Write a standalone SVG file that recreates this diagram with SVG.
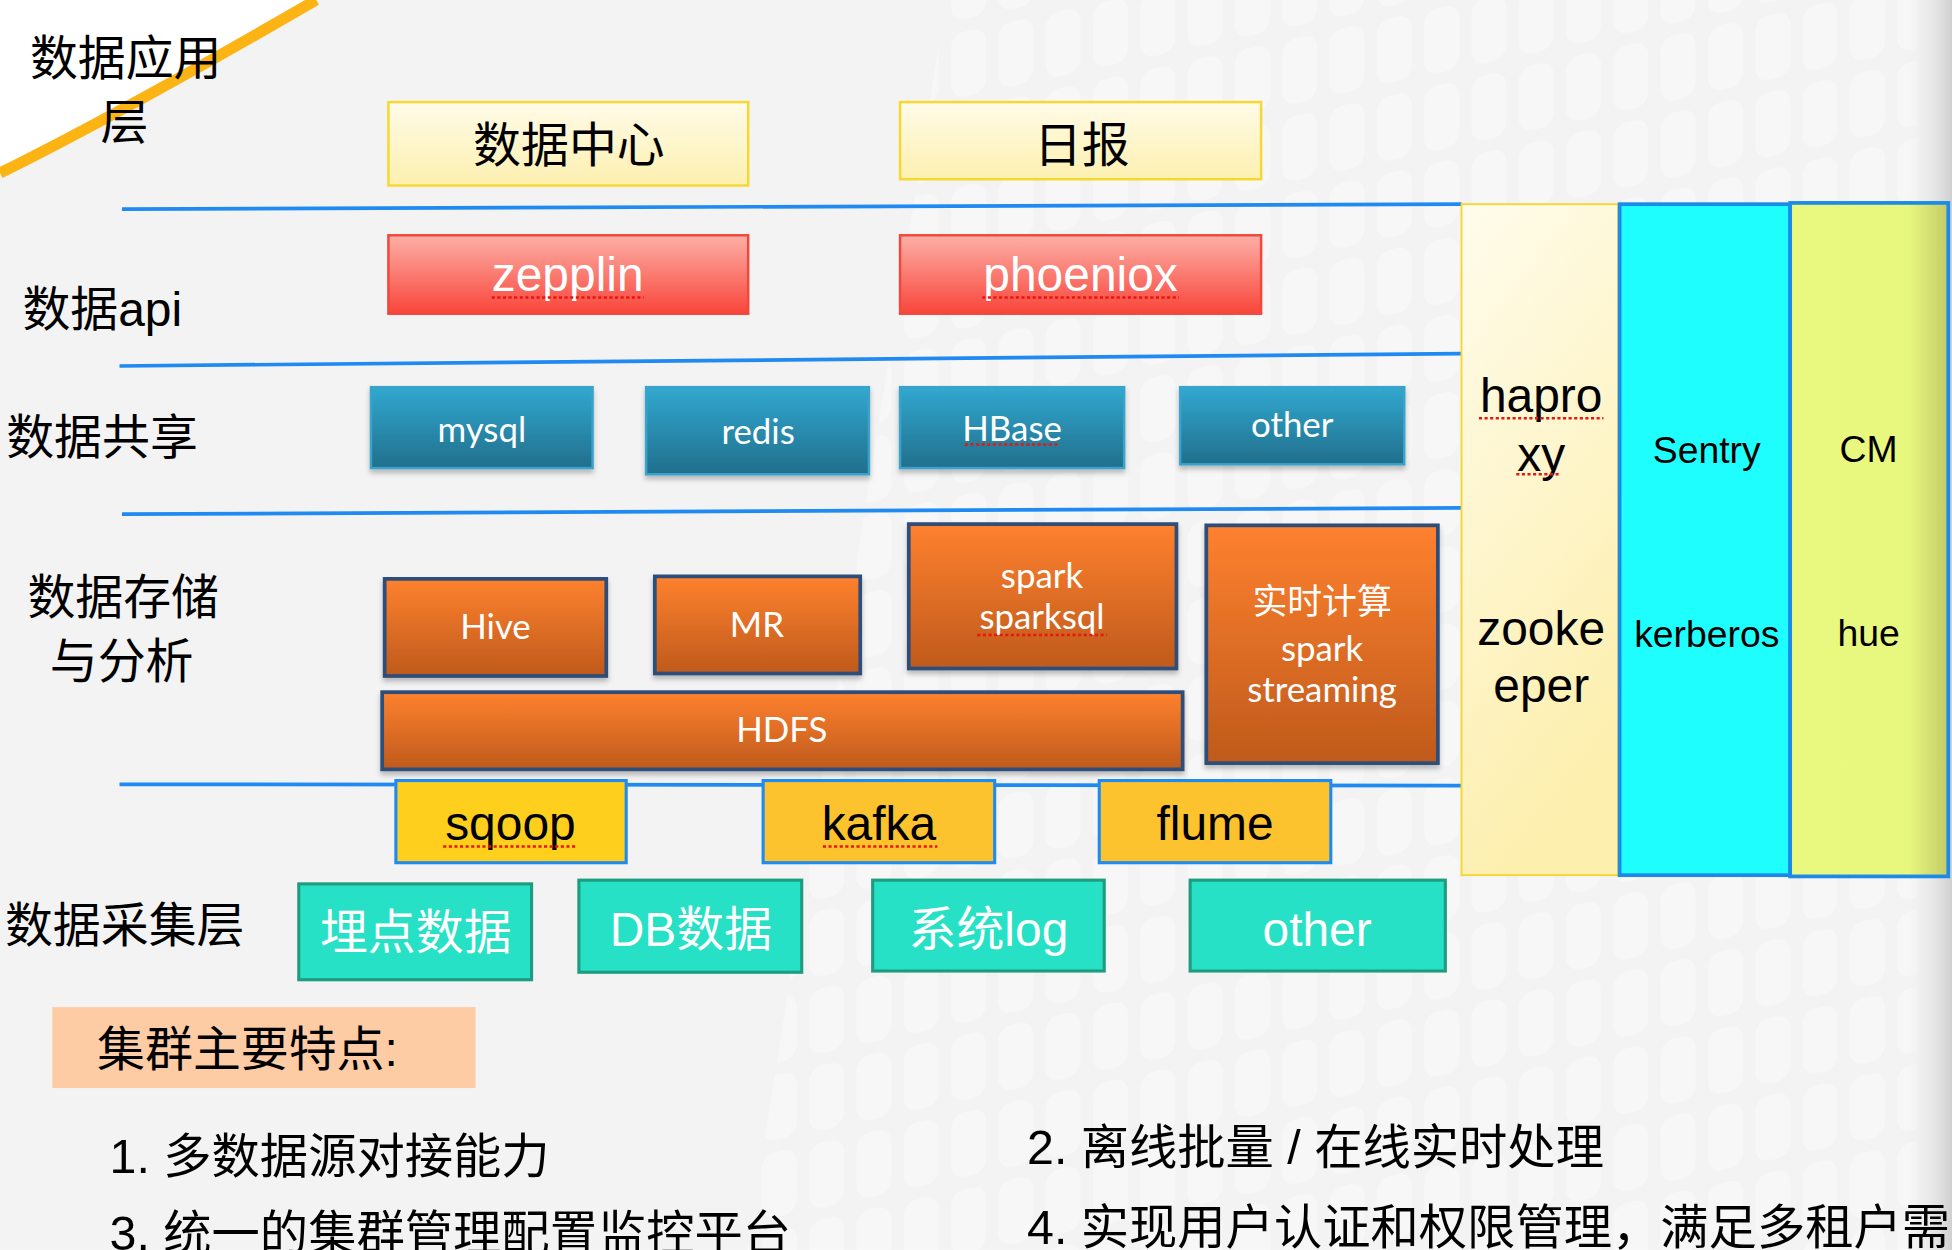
<svg xmlns="http://www.w3.org/2000/svg" width="1952" height="1250" viewBox="0 0 1952 1250">
<style>
.t{font-family:"Liberation Sans","Noto Sans CJK SC",sans-serif;fill:#000}
.lbl{font-size:38.5px}
.mid{text-anchor:middle}
.w{fill:#fff}
.ft{font-size:38.8px}
.lato{font-family:Lato,"Noto Sans CJK SC",sans-serif;font-size:28px;fill:#fff;text-anchor:middle}
.sep{stroke:#1f8af2;stroke-width:3;fill:none}
.sq{stroke:#e8160c;stroke-width:2;stroke-dasharray:2.5 2;fill:none}
.yb{fill:url(#gY);stroke:#f6d832;stroke-width:2}
.rb{fill:url(#gR);stroke:#f2483c;stroke-width:2}
.tb{fill:url(#gT);stroke:#3aa3cb;stroke-width:2;filter:url(#sh)}
.ob{fill:url(#gO);stroke:#2f4d78;stroke-width:3;filter:url(#sh)}
.kb{stroke:#1f8af2;stroke-width:2.5}
.gb{fill:#26e1c5;stroke:#1d9c80;stroke-width:2.5}
</style>
<defs>
<linearGradient id="gY" x1="0" y1="0" x2="0" y2="1"><stop offset="0" stop-color="#fffbe8"/><stop offset="1" stop-color="#fdf0b0"/></linearGradient>
<linearGradient id="gR" x1="0" y1="0" x2="0" y2="1"><stop offset="0" stop-color="#fcb0a7"/><stop offset="1" stop-color="#f9453a"/></linearGradient>
<linearGradient id="gT" x1="0" y1="0" x2="0" y2="1"><stop offset="0" stop-color="#31a8d0"/><stop offset="1" stop-color="#226f8c"/></linearGradient>
<linearGradient id="gO" x1="0" y1="0" x2="0" y2="1"><stop offset="0" stop-color="#fe812e"/><stop offset="1" stop-color="#bf5a1c"/></linearGradient>
<linearGradient id="gC1" x1="0" y1="0" x2="0.3" y2="1"><stop offset="0" stop-color="#fffcec"/><stop offset="1" stop-color="#fdefae"/></linearGradient>
<linearGradient id="gC3" x1="0" y1="0" x2="1" y2="0"><stop offset="0" stop-color="#e9f97f"/><stop offset="0.75" stop-color="#e8f77d"/><stop offset="1" stop-color="#c3cb68"/></linearGradient>
<linearGradient id="gEdge" x1="0" y1="0" x2="1" y2="0"><stop offset="0" stop-color="#f3f3f3" stop-opacity="0"/><stop offset="1" stop-color="#cfcfcf"/></linearGradient>
<pattern id="tiles" width="38" height="62" patternUnits="userSpaceOnUse" patternTransform="skewY(-12)">
<rect x="4" y="4" width="28" height="52" rx="11" fill="#fbfbfb"/>
</pattern>
<filter id="sh" x="-5%" y="-5%" width="110%" height="125%"><feDropShadow dx="0" dy="3" stdDeviation="2" flood-color="#000" flood-opacity="0.25"/></filter>
</defs>
<g transform="scale(1.2449)">
<g id="background">
<rect x="0" y="0" width="1568" height="1004" fill="#f3f3f3"/>
<polygon points="600,1004 760,0 1540,0 1540,1004" fill="url(#tiles)" opacity="0.55"/>
<rect x="1530" y="0" width="38" height="1004" fill="url(#gEdge)"/>
<path d="M0,0 L254,0 Q95,92 0,139 Z" fill="#ffffff"/>
<path d="M0,139 Q95,92 254,0" stroke="#fbb414" stroke-width="9" fill="none"/>
</g>
<g id="connectors">
<line class="sep" x1="98" y1="168" x2="1174" y2="164"/>
<line class="sep" x1="96" y1="294" x2="1174" y2="284"/>
<line class="sep" x1="98" y1="413" x2="1174" y2="408"/>
<line class="sep" x1="96" y1="630" x2="1174" y2="631"/>
</g>
<g id="layer-labels">
<text class="t lbl" x="24" y="60">数据应用</text>
<text class="t lbl mid" x="100" y="112">层</text>
<text class="t lbl" x="18" y="262">数据api</text>
<text class="t lbl" x="5" y="365">数据共享</text>
<text class="t lbl" x="22" y="493">数据存储</text>
<text class="t lbl" x="40" y="545">与分析</text>
<text class="t lbl" x="4" y="757">数据采集层</text>
</g>
<g id="n-datacenter"><rect class="yb" x="312" y="82" width="289" height="67"/><text class="t mid" x="457" y="130" font-size="38.5">数据中心</text></g>
<g id="n-daily"><rect class="yb" x="723" y="82" width="290" height="62"/><text class="t mid" x="869" y="130" font-size="38.5">日报</text></g>
<g id="n-zepplin"><rect class="rb" x="312" y="189" width="289" height="63"/><text class="t w mid" x="456" y="234" font-size="38.5">zepplin</text><line class="sq" x1="395" y1="239" x2="517" y2="239"/></g>
<g id="n-phoeniox"><rect class="rb" x="723" y="189" width="290" height="63"/><text class="t w mid" x="868" y="234" font-size="38.5">phoeniox</text><line class="sq" x1="789" y1="239" x2="947" y2="239"/></g>
<g id="n-mysql"><rect class="tb" x="298" y="311" width="178" height="65"/><text class="lato" x="387" y="355">mysql</text></g>
<g id="n-redis"><rect class="tb" x="519" y="311" width="179" height="70"/><text class="lato" x="609" y="357">redis</text></g>
<g id="n-hbase"><rect class="tb" x="723" y="311" width="180" height="65"/><text class="lato" x="813" y="354">HBase</text><line class="sq" x1="775" y1="357" x2="850" y2="357"/></g>
<g id="n-other1"><rect class="tb" x="948" y="311" width="180" height="62"/><text class="lato" x="1038" y="351">other</text></g>
<g id="n-hive"><rect class="ob" x="309" y="465" width="178" height="78"/><text class="lato" x="398" y="513">Hive</text></g>
<g id="n-mr"><rect class="ob" x="526" y="463" width="165" height="78"/><text class="lato" x="608" y="512">MR</text></g>
<g id="n-spark"><rect class="ob" x="730" y="421" width="215" height="116"/><text class="lato" x="837" y="472">spark</text><text class="lato" x="837" y="505">sparksql</text><line class="sq" x1="785" y1="510" x2="889" y2="510"/></g>
<g id="n-streaming"><rect class="ob" x="969" y="422" width="186" height="191"/><text class="lato" x="1062" y="493">实时计算</text><text class="lato" x="1062" y="531">spark</text><text class="lato" x="1062" y="564">streaming</text></g>
<g id="n-hdfs"><rect class="ob" x="307" y="556" width="643" height="62"/><text class="lato" x="628" y="596">HDFS</text></g>
<g id="n-sqoop"><rect class="kb" x="318" y="627" width="185" height="66" fill="#fecf1c"/><text class="t mid" x="410" y="675" font-size="38.5">sqoop</text><line class="sq" x1="356" y1="680" x2="463" y2="680"/></g>
<g id="n-kafka"><rect class="kb" x="613" y="627" width="186" height="66" fill="#fdc32e"/><text class="t mid" x="706" y="675" font-size="38.5">kafka</text><line class="sq" x1="661" y1="680" x2="753" y2="680"/></g>
<g id="n-flume"><rect class="kb" x="883" y="627" width="186" height="66" fill="#fdc32e"/><text class="t mid" x="976" y="675" font-size="38.5">flume</text></g>
<g id="n-maidian"><rect class="gb" x="240" y="710" width="187" height="77"/><text class="t w mid" x="334" y="762" font-size="38.5">埋点数据</text></g>
<g id="n-db"><rect class="gb" x="465" y="707" width="179" height="74"/><text class="t w mid" x="555" y="760" font-size="38.5">DB数据</text></g>
<g id="n-log"><rect class="gb" x="701" y="707" width="186" height="73"/><text class="t w mid" x="794" y="760" font-size="38.5">系统log</text></g>
<g id="n-other2"><rect class="gb" x="956" y="707" width="205" height="73"/><text class="t w mid" x="1058" y="760" font-size="38.5">other</text></g>
<g id="n-haproxy-zk"><rect x="1174" y="164" width="126" height="539" fill="url(#gC1)" stroke="#f6d630" stroke-width="1.5"/>
<text class="t mid" x="1238" y="331" font-size="38.5">hapro</text><text class="t mid" x="1238" y="378" font-size="38.5">xy</text>
<line class="sq" x1="1188" y1="336" x2="1288" y2="336"/><line class="sq" x1="1218" y1="381" x2="1253" y2="381"/>
<text class="t mid" x="1238" y="518" font-size="38.5">zooke</text><text class="t mid" x="1238" y="564" font-size="38.5">eper</text></g>
<g id="n-sentry"><rect x="1301" y="164" width="137" height="539" fill="#1ffefe" stroke="#1c8ae8" stroke-width="3"/>
<text class="t mid" x="1371" y="372" font-size="30">Sentry</text><text class="t mid" x="1371" y="520" font-size="30">kerberos</text></g>
<g id="n-cm"><rect x="1438" y="163" width="127" height="541" fill="url(#gC3)" stroke="#1c8ae8" stroke-width="3"/>
<text class="t mid" x="1501" y="371" font-size="30">CM</text><text class="t mid" x="1501" y="519" font-size="30">hue</text></g>
<g id="features">
<rect x="42" y="809" width="340" height="65" fill="#fecca4"/>
<text class="t" x="78" y="856" font-size="38.5">集群主要特点:</text>
<text class="t ft" x="88" y="942">1. 多数据源对接能力</text>
<text class="t ft" x="825" y="935">2. 离线批量 / 在线实时处理</text>
<text class="t ft" x="88" y="1004">3. 统一的集群管理配置监控平台</text>
<text class="t ft" x="825" y="999">4. 实现用户认证和权限管理，满足多租户需</text>
</g>
</g>
</svg>
